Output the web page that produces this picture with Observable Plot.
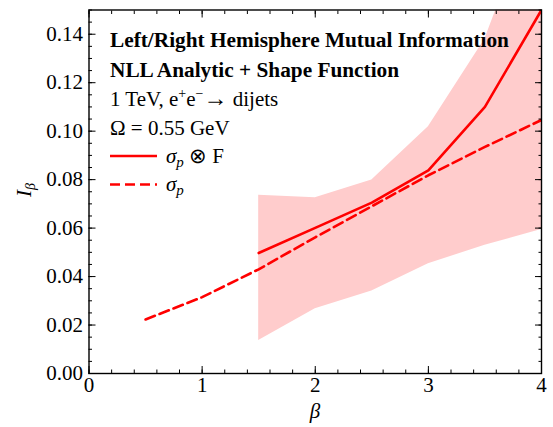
<!DOCTYPE html>
<html>
<head>
<meta charset="utf-8">
<script src="https://cdn.jsdelivr.net/npm/d3@7"></script>
<script src="https://cdn.jsdelivr.net/npm/@observablehq/plot@0.6"></script>
<style>
  body { margin: 0; background: #fff; }
  #chart svg, #chart svg text { font-family: "Liberation Serif", "Times New Roman", serif !important; }
</style>
</head>
<body>
<div id="chart"></div>
<script>
// ---- data ----
const betaF = [1.5, 2, 2.5, 3, 3.5, 4];
const convF = [0.0497, 0.0601, 0.0705, 0.0838, 0.110, 0.150];
const bandLo = [0.0136, 0.0267, 0.0340, 0.0453, 0.0529, 0.0594];
const bandHi = [0.0736, 0.0725, 0.0798, 0.1018, 0.138, 0.200];
const betaP = [0.5, 1, 1.5, 2, 2.5, 3, 3.5, 4];
const sigmaP = [0.0223, 0.0315, 0.0430, 0.0562, 0.0690, 0.0818, 0.0935, 0.1046];
const xTicks = [0, 1, 2, 3, 4];
const yTicks = [0, 0.02, 0.04, 0.06, 0.08, 0.10, 0.12, 0.14];
const xMinor = d3.range(0, 4.0001, 0.2);
const yMinor = d3.range(0, 0.1501, 0.005);

const bandData = betaF.map((b, i) => ({b, lo: bandLo[i], hi: bandHi[i]}));
const convData = betaF.map((b, i) => ({b, v: convF[i]}));
const sigData = betaP.map((b, i) => ({b, v: sigmaP[i]}));

const W = 553, H = 427;
const mL = 88.5, mR = 12, mT = 9.5, mB = 54;
const red = "#ff0000";

const plot = Plot.plot({
  width: W, height: H,
  marginLeft: mL, marginRight: mR, marginTop: mT, marginBottom: mB,
  style: {fontSize: "21px", color: "#000", background: "#fff"},
  x: {domain: [0, 4]},
  y: {domain: [0, 0.15]},
  marks: [
    Plot.areaY(bandData, {x: "b", y1: "lo", y2: "hi", fill: "#ffcccc", fillOpacity: 1, clip: true}),
    Plot.line(sigData, {x: "b", y: "v", stroke: red, strokeWidth: 2.6, strokeDasharray: "10,5", clip: true}),
    Plot.line(convData, {x: "b", y: "v", stroke: red, strokeWidth: 2.6, clip: true}),
    // minor ticks (inward) on all four sides
    Plot.axisX(xMinor, {anchor: "bottom", tickSize: -3.5, tickFormat: () => "", label: null}),
    Plot.axisX(xMinor, {anchor: "top", tickSize: -3.5, tickFormat: () => "", label: null}),
    Plot.axisY(yMinor, {anchor: "left", tickSize: -3.5, tickFormat: () => "", label: null}),
    Plot.axisY(yMinor, {anchor: "right", tickSize: -3.5, tickFormat: () => "", label: null}),
    // major ticks (inward)
    Plot.axisX(xTicks, {anchor: "bottom", tickSize: -7, tickFormat: () => "", label: null}),
    Plot.axisX(xTicks, {anchor: "top", tickSize: -7, tickFormat: () => "", label: null}),
    Plot.axisY(yTicks, {anchor: "left", tickSize: -7, tickFormat: () => "", label: null}),
    Plot.axisY(yTicks, {anchor: "right", tickSize: -7, tickFormat: () => "", label: null}),
    // labels
    Plot.axisX(xTicks, {anchor: "bottom", tickSize: 0, tickPadding: 4, tickFormat: d3.format("d"), fontSize: 21, label: null}),
    Plot.axisY(yTicks, {anchor: "left", tickSize: 0, tickPadding: 6, tickFormat: d3.format(".2f"), fontSize: 21, label: null}),
    Plot.frame({stroke: "#000", strokeWidth: 1.4})
  ]
});

const svg = d3.select(plot);
const fam = "Liberation Serif, Times New Roman, serif";

// axis titles
svg.append("text").attr("transform", "translate(31,190) rotate(-90)")
  .attr("text-anchor", "middle").attr("font-family", fam).attr("font-size", 21).attr("font-style", "italic")
  .call(t => { t.append("tspan").text("I"); t.append("tspan").attr("font-size", 14).attr("dy", 4).text("β"); });
svg.append("text").attr("x", 315).attr("y", 418).attr("text-anchor", "middle")
  .attr("font-family", fam).attr("font-size", 21).attr("font-style", "italic").text("β");

// legend / annotation block
const tx = 110;
const g = svg.append("g").attr("font-family", fam).attr("fill", "#000").attr("text-anchor", "start");
g.append("text").attr("x", tx).attr("y", 47).attr("font-size", 21.3).attr("font-weight", "bold")
  .text("Left/Right Hemisphere Mutual Information");
g.append("text").attr("x", tx).attr("y", 77).attr("font-size", 21.3).attr("font-weight", "bold")
  .text("NLL Analytic + Shape Function");
g.append("text").attr("x", tx).attr("y", 106).attr("font-size", 21)
  .call(t => {
    t.append("tspan").text("1 TeV, e");
    t.append("tspan").attr("font-size", 14).attr("dy", -8).text("+");
    t.append("tspan").attr("dy", 8).text("e");
    t.append("tspan").attr("font-size", 14).attr("dy", -8).text("−");
    t.append("tspan").attr("dy", 8).attr("font-size", 24).text("→");
    t.append("tspan").text(" dijets");
  });
g.append("text").attr("x", tx).attr("y", 135).attr("font-size", 21).text("Ω = 0.55 GeV");

g.append("line").attr("x1", tx).attr("x2", 157).attr("y1", 156).attr("y2", 156)
  .attr("stroke", red).attr("stroke-width", 2.6);
g.append("line").attr("x1", tx).attr("x2", 157).attr("y1", 184.5).attr("y2", 184.5)
  .attr("stroke", red).attr("stroke-width", 2.6).attr("stroke-dasharray", "10,5");

g.append("text").attr("x", 166).attr("y", 163).attr("font-size", 21)
  .call(t => {
    t.append("tspan").attr("font-style", "italic").text("σ");
    t.append("tspan").attr("font-style", "italic").attr("font-size", 15).attr("dy", 4).text("p");
    t.append("tspan").attr("dy", -4).text(" ⊗ F");
  });
g.append("text").attr("x", 166).attr("y", 191).attr("font-size", 21)
  .call(t => {
    t.append("tspan").attr("font-style", "italic").text("σ");
    t.append("tspan").attr("font-style", "italic").attr("font-size", 15).attr("dy", 4).text("p");
  });

document.getElementById("chart").appendChild(plot);
</script>
</body>
</html>
